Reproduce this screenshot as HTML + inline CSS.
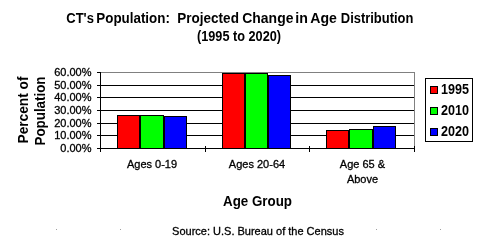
<!DOCTYPE html>
<html><head><meta charset="utf-8">
<style>
html,body{margin:0;padding:0;background:#fff;width:481px;height:250px;overflow:hidden}
svg{display:block;will-change:transform}
text{font-family:"Liberation Sans",sans-serif;fill:#000;white-space:pre}
.b{font-weight:bold}
text:not(.b){stroke:#000;stroke-width:0.3px}
</style></head><body>
<svg width="481" height="250" viewBox="0 0 481 250" shape-rendering="crispEdges">
<!-- title -->
<g class="b" font-size="14">
<text class="b" x="66.3" y="23" textLength="27.6" lengthAdjust="spacingAndGlyphs">CT's</text>
<text class="b" x="96.3" y="23" textLength="73.6" lengthAdjust="spacingAndGlyphs">Population:</text>
<text class="b" x="177.3" y="23" textLength="61.6" lengthAdjust="spacingAndGlyphs">Projected</text>
<text class="b" x="242.3" y="23" textLength="51.1" lengthAdjust="spacingAndGlyphs">Change</text>
<text class="b" x="295.3" y="23" textLength="12.6" lengthAdjust="spacingAndGlyphs">in</text>
<text class="b" x="310.3" y="23" textLength="26.6" lengthAdjust="spacingAndGlyphs">Age</text>
<text class="b" x="340.8" y="23" textLength="72.6" lengthAdjust="spacingAndGlyphs">Distribution</text>
</g>
<text class="b" x="197" y="41" font-size="14" textLength="84" lengthAdjust="spacingAndGlyphs">(1995 to 2020)</text>

<!-- gridlines -->
<g fill="#000">
<rect x="100" y="85" width="314" height="1"/>
<rect x="100" y="97" width="314" height="1"/>
<rect x="100" y="110" width="314" height="1"/>
<rect x="100" y="123" width="314" height="1"/>
<rect x="100" y="135" width="314" height="1"/>
</g>
<!-- plot border (gray top/right) -->
<rect x="100" y="72" width="315" height="1" fill="#808080"/>
<rect x="414" y="72" width="1" height="76" fill="#808080"/>

<!-- bars -->
<g stroke="#000" stroke-width="1" fill="none">
<rect x="117.5" y="115.5" width="22" height="33" fill="#f00"/>
<rect x="140.5" y="115.5" width="23" height="33" fill="#0f0"/>
<rect x="164.5" y="116.5" width="22" height="32" fill="#00f"/>
<rect x="222.5" y="73.5" width="22" height="75" fill="#f00"/>
<rect x="245.5" y="73.5" width="22" height="75" fill="#0f0"/>
<rect x="268.5" y="75.5" width="22" height="73" fill="#00f"/>
<rect x="326.5" y="130.5" width="22" height="18" fill="#f00"/>
<rect x="349.5" y="129.5" width="23" height="19" fill="#0f0"/>
<rect x="373.5" y="126.5" width="22" height="22" fill="#00f"/>
</g>

<!-- axes -->
<g fill="#000">
<rect x="100" y="72" width="1" height="80"/>
<rect x="97" y="148" width="318" height="1"/>
<rect x="97" y="72" width="3" height="1"/>
<rect x="97" y="85" width="3" height="1"/>
<rect x="97" y="97" width="3" height="1"/>
<rect x="97" y="110" width="3" height="1"/>
<rect x="97" y="123" width="3" height="1"/>
<rect x="97" y="135" width="3" height="1"/>
<rect x="205" y="146" width="1" height="6"/>
<rect x="309" y="146" width="1" height="6"/>
<rect x="414" y="146" width="1" height="6"/>
</g>

<!-- y labels -->
<g font-size="11" text-anchor="end">
<text x="91.5" y="76">60.00%</text>
<text x="91.5" y="89">50.00%</text>
<text x="91.5" y="101">40.00%</text>
<text x="91.5" y="114">30.00%</text>
<text x="91.5" y="127">20.00%</text>
<text x="91.5" y="139">10.00%</text>
<text x="91.5" y="152">0.00%</text>
</g>

<!-- x labels -->
<g font-size="11" text-anchor="middle">
<text x="152" y="168">Ages 0-19</text>
<text x="257" y="168">Ages 20-64</text>
<text x="362.5" y="168">Age 65 &amp;</text>
<text x="362.5" y="183">Above</text>
</g>

<!-- axis titles -->
<text class="b" x="223" y="206" font-size="14" textLength="69" lengthAdjust="spacingAndGlyphs">Age Group</text>
<text class="b" font-size="14" textLength="67" lengthAdjust="spacingAndGlyphs" transform="translate(28,143.5) rotate(-90)">Percent of</text>
<text class="b" font-size="14" textLength="69" lengthAdjust="spacingAndGlyphs" transform="translate(45,145.5) rotate(-90)">Population</text>

<!-- legend -->
<rect x="425.5" y="78.5" width="47" height="63" fill="#fff" stroke="#000" stroke-width="1"/>
<g stroke="#000" stroke-width="1">
<rect x="430.5" y="86.5" width="7" height="7" fill="#f00"/>
<rect x="430.5" y="107.5" width="7" height="7" fill="#0f0"/>
<rect x="430.5" y="128.5" width="7" height="7" fill="#00f"/>
</g>
<g class="b" font-size="14">
<text class="b" x="441" y="94" textLength="28" lengthAdjust="spacingAndGlyphs">1995</text>
<text class="b" x="441" y="115" textLength="28" lengthAdjust="spacingAndGlyphs">2010</text>
<text class="b" x="441" y="136" textLength="28" lengthAdjust="spacingAndGlyphs">2020</text>
</g>

<!-- source -->
<text x="258" y="235" font-size="11" text-anchor="middle">Source: U.S. Bureau of the Census</text>

<!-- tiny dots -->
<g fill="#a0a0a0">
<rect x="56" y="229" width="1" height="1"/>
<rect x="120" y="229" width="1" height="1"/>
<rect x="376" y="229" width="1" height="1"/>
<rect x="440" y="229" width="1" height="1"/>
</g>
</svg>
</body></html>
